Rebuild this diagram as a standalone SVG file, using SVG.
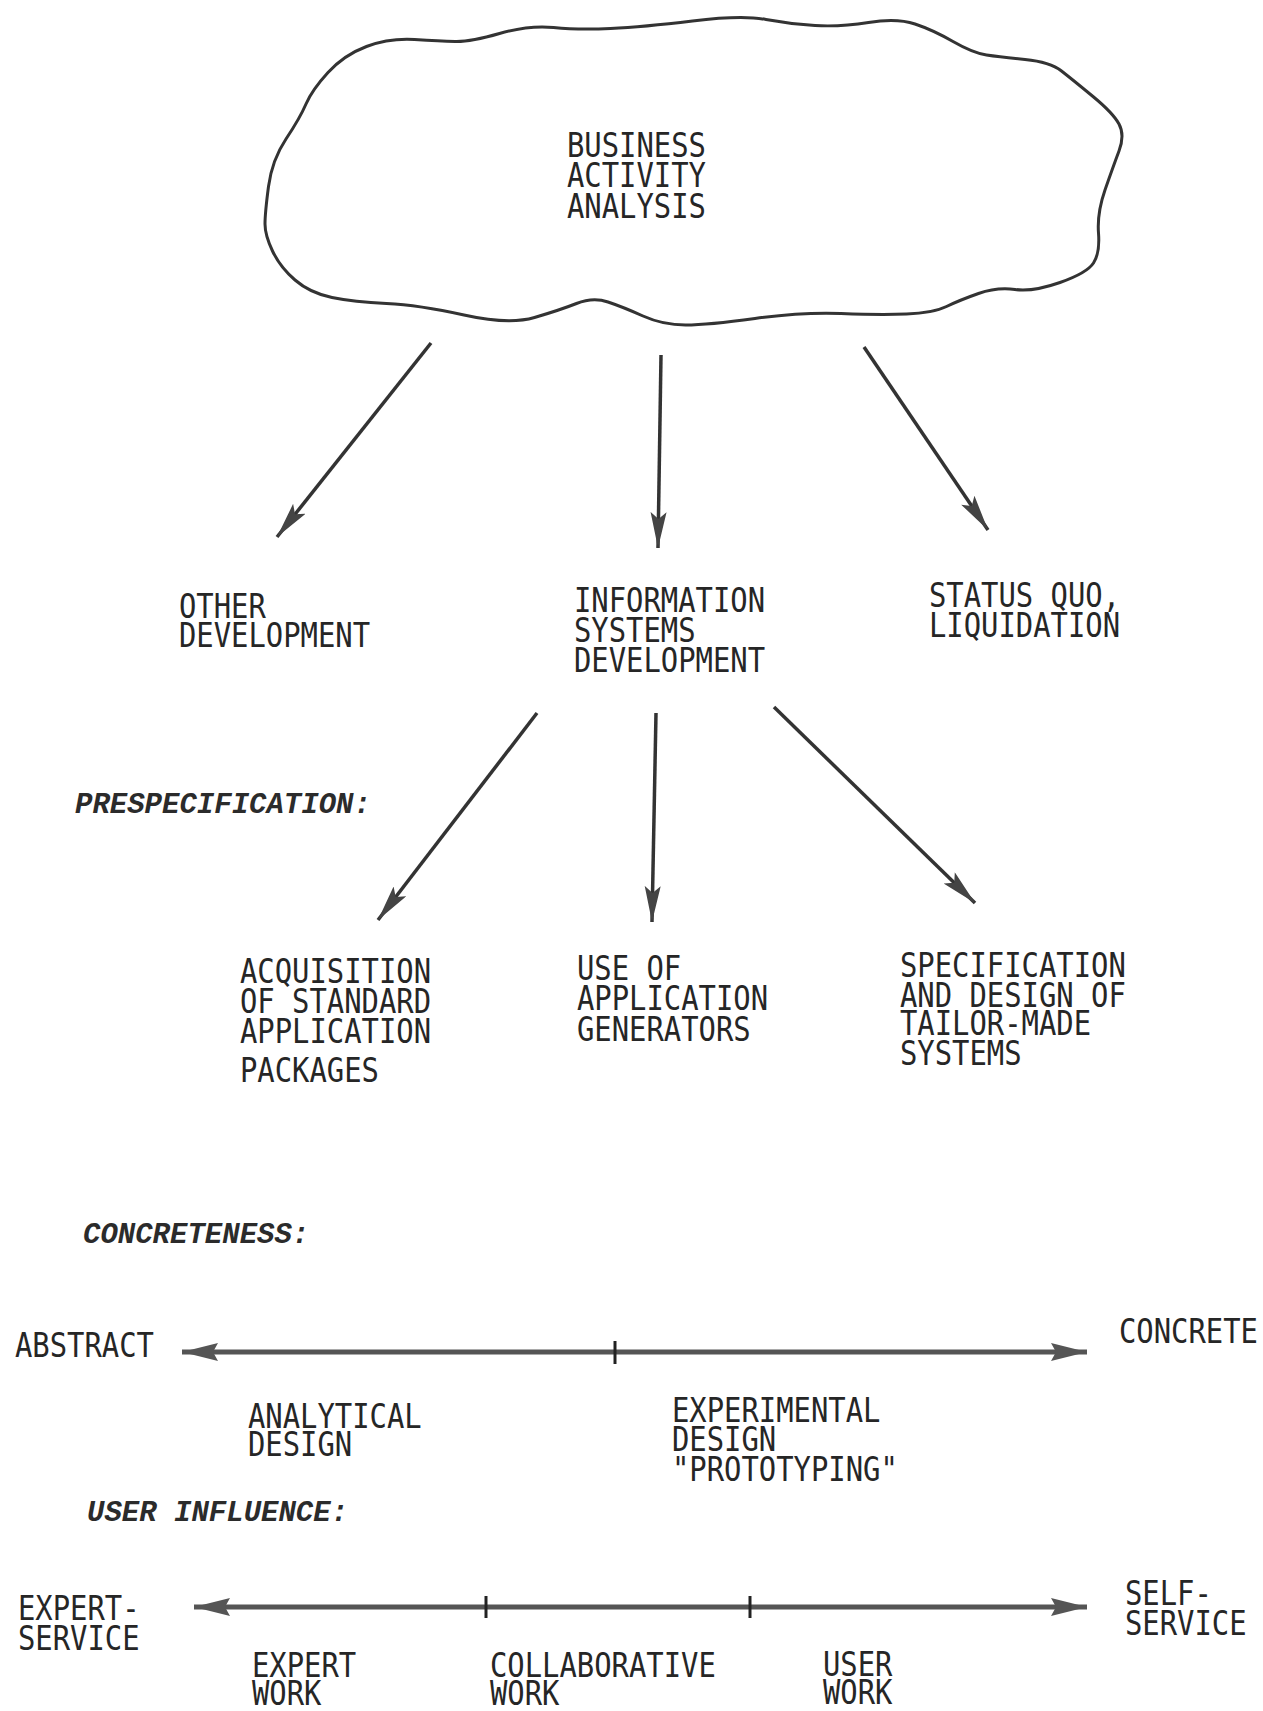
<svg xmlns="http://www.w3.org/2000/svg" width="1263" height="1711" viewBox="0 0 1263 1711">
<style>
.t{font-family:"DejaVu Sans Mono","Liberation Mono",monospace;font-size:33px;fill:#262626}
.i{font-family:"Liberation Mono","Courier New",monospace;font-size:29px;font-style:italic;font-weight:bold;fill:#2b2b2b}
.a{stroke:#333;stroke-width:3.5;fill:none;marker-end:url(#ah)}
.x{stroke:#555;stroke-width:5;fill:none;marker-start:url(#xh);marker-end:url(#xh)}
.tick{stroke:#222;stroke-width:3}
</style>
<defs>
<marker id="ah" markerUnits="userSpaceOnUse" markerWidth="40" markerHeight="18" refX="36" refY="8" orient="auto">
<path d="M0,0 L36,8 L0,16 L7,8 Z" fill="#444"/>
</marker>
<marker id="xh" markerUnits="userSpaceOnUse" markerWidth="40" markerHeight="20" refX="36" refY="9" orient="auto-start-reverse">
<path d="M0,0 L36,9 L0,18 L5,9 Z" fill="#555"/>
</marker>
</defs>
<rect width="1263" height="1711" fill="#fff"/>

<g id="cloud">
<path d="M 268.5 186.5 Q 272 160 286 139 Q 300 118 306 104 Q 312 90 328 72.5 Q 344 55 366.5 46.5 Q 389 38 414.5 39.5 Q 440 41 455 41.5 Q 470 42 499.5 33.5 Q 529 25 553.5 27.5 Q 578 30 610.5 28.5 Q 643 27 692.5 21 Q 742 15 766 19.5 Q 790 24 815 25.5 Q 840 27 868.5 22.5 Q 897 18 915 24 Q 933 30 953 41.5 Q 973 53 986.5 55 Q 1000 57 1025 59.5 Q 1050 62 1061.5 71 Q 1073 80 1093 96.5 Q 1113 113 1119 124 Q 1125 135 1119 151 Q 1113 167 1105 190 Q 1097 213 1098.5 233 Q 1100 253 1093.5 263 Q 1087 273 1060 282.5 Q 1033 292 1015 289.5 Q 997 287 978.5 293.5 Q 960 300 946.5 306.5 Q 933 313 906.5 314 Q 880 315 841 313.5 Q 802 312 755 318.5 Q 708 325 685.5 325 Q 663 325 643 316 Q 623 307 608 302 Q 593 297 576.5 303.5 Q 560 310 534.5 317.5 Q 509 325 464 315 Q 419 305 386.5 303.5 Q 354 302 332 297.5 Q 310 293 295 280 Q 280 267 272.5 251 Q 265 235 265 224 Q 265 213 268.5 186.5 Z" fill="none" stroke="#333" stroke-width="3"/>
<text class="t" transform="translate(567 157) scale(0.875 1.03)"><tspan x="0" y="0">BUSINESS</tspan><tspan x="0" y="29.5">ACTIVITY</tspan><tspan x="0" y="59">ANALYSIS</tspan></text>
</g>

<g id="other-development"><text class="t" transform="translate(179 618) scale(0.875 1.03)"><tspan x="0" y="0">OTHER</tspan><tspan x="0" y="28">DEVELOPMENT</tspan></text></g>
<g id="is-development"><text class="t" transform="translate(574 612) scale(0.875 1.03)"><tspan x="0" y="0">INFORMATION</tspan><tspan x="0" y="29">SYSTEMS</tspan><tspan x="0" y="58">DEVELOPMENT</tspan></text></g>
<g id="status-quo"><text class="t" transform="translate(929 607) scale(0.875 1.03)"><tspan x="0" y="0">STATUS QUO,</tspan><tspan x="0" y="29">LIQUIDATION</tspan></text></g>

<g id="prespecification"><text class="i" x="75" y="813">PRESPECIFICATION:</text></g>

<g id="acquisition"><text class="t" transform="translate(240 983) scale(0.875 1.03)"><tspan x="0" y="0">ACQUISITION</tspan><tspan x="0" y="29">OF STANDARD</tspan><tspan x="0" y="58">APPLICATION</tspan><tspan x="0" y="96">PACKAGES</tspan></text></g>
<g id="generators"><text class="t" transform="translate(577 980) scale(0.875 1.03)"><tspan x="0" y="0">USE OF</tspan><tspan x="0" y="29">APPLICATION</tspan><tspan x="0" y="59">GENERATORS</tspan></text></g>
<g id="tailor-made"><text class="t" transform="translate(900 977) scale(0.875 1.03)"><tspan x="0" y="0">SPECIFICATION</tspan><tspan x="0" y="29">AND DESIGN OF</tspan><tspan x="0" y="56">TAILOR-MADE</tspan><tspan x="0" y="85">SYSTEMS</tspan></text></g>

<g id="concreteness"><text class="i" x="83" y="1243">CONCRETENESS:</text></g>
<g id="abstract"><text class="t" transform="translate(15 1357) scale(0.875 1.03)">ABSTRACT</text></g>
<g id="concrete"><text class="t" transform="translate(1119 1343) scale(0.875 1.03)">CONCRETE</text></g>
<g id="analytical"><text class="t" transform="translate(248 1428) scale(0.875 1.03)"><tspan x="0" y="0">ANALYTICAL</tspan><tspan x="0" y="27">DESIGN</tspan></text></g>
<g id="experimental"><text class="t" transform="translate(672 1422) scale(0.875 1.03)"><tspan x="0" y="0">EXPERIMENTAL</tspan><tspan x="0" y="28">DESIGN</tspan><tspan x="0" y="57">"PROTOTYPING"</tspan></text></g>

<g id="user-influence"><text class="i" x="87" y="1521">USER INFLUENCE:</text></g>
<g id="expert-service"><text class="t" transform="translate(18 1620) scale(0.875 1.03)"><tspan x="0" y="0">EXPERT-</tspan><tspan x="0" y="29">SERVICE</tspan></text></g>
<g id="self-service"><text class="t" transform="translate(1125 1605) scale(0.875 1.03)"><tspan x="0" y="0">SELF-</tspan><tspan x="0" y="29">SERVICE</tspan></text></g>
<g id="expert-work"><text class="t" transform="translate(252 1677) scale(0.875 1.03)"><tspan x="0" y="0">EXPERT</tspan><tspan x="0" y="27">WORK</tspan></text></g>
<g id="collaborative-work"><text class="t" transform="translate(490 1677) scale(0.875 1.03)"><tspan x="0" y="0">COLLABORATIVE</tspan><tspan x="0" y="27">WORK</tspan></text></g>
<g id="user-work"><text class="t" transform="translate(823 1676) scale(0.875 1.03)"><tspan x="0" y="0">USER</tspan><tspan x="0" y="27">WORK</tspan></text></g>

<g id="connectors">
<line class="a" x1="431" y1="343" x2="277" y2="537"/>
<line class="a" x1="661" y1="355" x2="658" y2="548"/>
<line class="a" x1="864" y1="347" x2="988" y2="530"/>
<line class="a" x1="537" y1="713" x2="378" y2="920"/>
<line class="a" x1="656" y1="713" x2="652" y2="922"/>
<line class="a" x1="774" y1="707" x2="975" y2="903"/>
<line class="x" x1="182" y1="1352" x2="1087" y2="1352"/>
<line class="tick" x1="615" y1="1341" x2="615" y2="1364"/>
<line class="x" x1="194" y1="1607" x2="1087" y2="1607"/>
<line class="tick" x1="486" y1="1596" x2="486" y2="1618"/>
<line class="tick" x1="750" y1="1596" x2="750" y2="1618"/>
</g>
</svg>
